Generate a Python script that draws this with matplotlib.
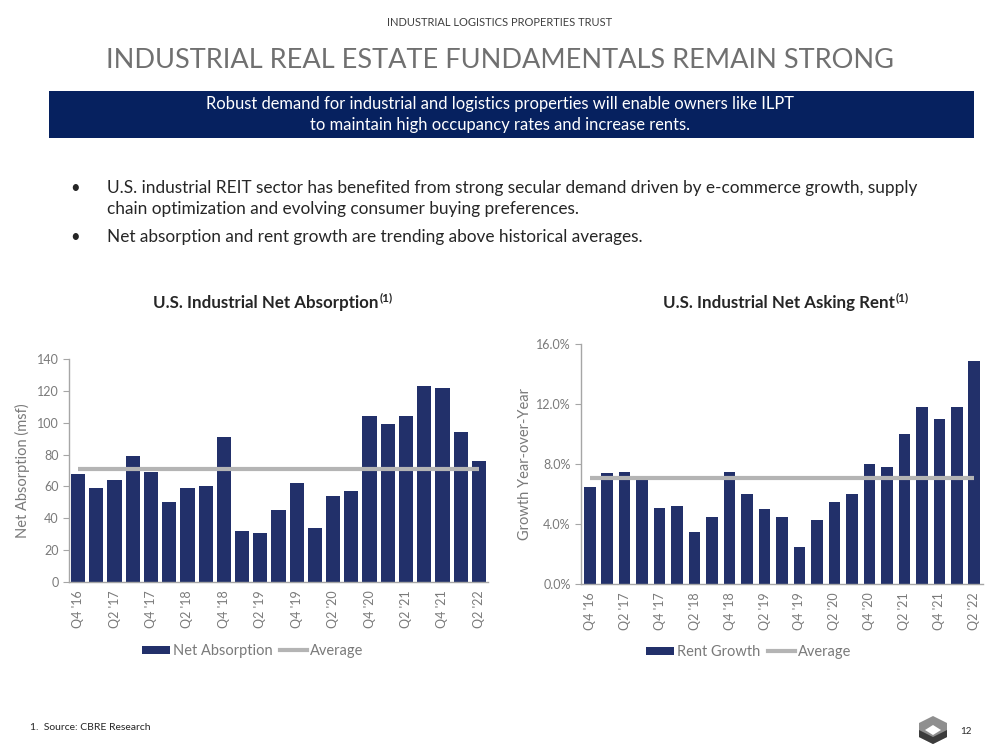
import matplotlib
matplotlib.use("agg")
import matplotlib.pyplot as plt
from matplotlib.patches import Rectangle, Polygon
from matplotlib.lines import Line2D
from matplotlib.ticker import FuncFormatter

plt.rcParams["font.family"] = ["Lato", "DejaVu Sans"]

NAVY = "#22306a"
BANNER = "#06215f"
AVG = "#b4b4b4"
GREY = "#7a7a7a"
DARK = "#262626"

quarters = ["Q4 '16", "Q1 '17", "Q2 '17", "Q3 '17", "Q4 '17", "Q1 '18", "Q2 '18", "Q3 '18",
            "Q4 '18", "Q1 '19", "Q2 '19", "Q3 '19", "Q4 '19", "Q1 '20", "Q2 '20", "Q3 '20",
            "Q4 '20", "Q1 '21", "Q2 '21", "Q3 '21", "Q4 '21", "Q1 '22", "Q2 '22"]
net_absorption = [68, 59, 64, 79, 69, 50, 59, 60, 91, 32, 31, 45, 62, 34, 54, 57,
                  104, 99, 104, 123, 122, 94, 76]
absorption_avg = 71
rent_growth = [6.5, 7.4, 7.5, 7.0, 5.1, 5.2, 3.5, 4.5, 7.5, 6.0, 5.0, 4.5, 2.5, 4.3, 5.5, 6.0,
               8.0, 7.8, 10.0, 11.8, 11.0, 11.8, 14.9]
rent_avg = 7.1

fig = plt.figure(figsize=(9.99, 7.5), dpi=100)
W, H = 999, 750


def fx(px):
    return px / W


def fy(py):
    return 1 - py / H


# Header
fig.text(0.5, fy(23), "INDUSTRIAL LOGISTICS PROPERTIES TRUST", ha="center", va="center",
         fontsize=8, color="#404040")
fig.text(0.5, fy(60), "INDUSTRIAL REAL ESTATE FUNDAMENTALS REMAIN STRONG", ha="center",
         va="center", fontsize=19.5, color="#707070")
fig.patches.append(Rectangle((fx(49), fy(138)), fx(974) - fx(49), fy(91) - fy(138),
                             transform=fig.transFigure, facecolor=BANNER, edgecolor="none"))
fig.text(0.5, fy(104), "Robust demand for industrial and logistics properties will enable owners like ILPT",
         ha="center", va="center", fontsize=11.9, color="white")
fig.text(0.5, fy(125), "to maintain high occupancy rates and increase rents.",
         ha="center", va="center", fontsize=11.9, color="white")

# Bullets
bullets = [
    (188, "U.S. industrial REIT sector has benefited from strong secular demand driven by e-commerce growth, supply", True),
    (209, "chain optimization and evolving consumer buying preferences.", False),
    (237, "Net absorption and rent growth are trending above historical averages.", True),
]
for y, txt, dot in bullets:
    if dot:
        fig.text(fx(75), fy(y), "•", ha="center", va="center", fontsize=12, color=DARK)
    fig.text(fx(107), fy(y), txt, ha="left", va="center", fontsize=12.4, color=DARK)

# Chart titles with superscript note marker
renderer = fig.canvas.get_renderer()
for cx, title in [(266, "U.S. Industrial Net Absorption"), (779, "U.S. Industrial Net Asking Rent")]:
    t = fig.text(fx(cx), fy(303), title, ha="center", va="center",
                 fontsize=12.2, fontweight="bold", color=DARK)
    bb = t.get_window_extent(renderer)
    fig.text(bb.x1 / W + 0.001, fy(298), "(1)", ha="left", va="center", fontsize=8.5,
             fontweight="bold", color=DARK)

x = list(range(len(quarters)))


def style(ax):
    for s in ["top", "right"]:
        ax.spines[s].set_visible(False)
    for s in ["left", "bottom"]:
        ax.spines[s].set_color("#a6a6a6")
        ax.spines[s].set_linewidth(1.0)
    ax.tick_params(axis="y", colors="#a6a6a6", labelcolor=GREY, labelsize=9, length=4)
    ax.tick_params(axis="x", length=0, labelcolor=GREY, labelsize=9, pad=6)
    ax.set_xlim(-0.5, len(quarters) - 0.5)
    ax.set_xticks(x[::2])
    ax.set_xticklabels(quarters[::2], rotation=90)


# Left chart
ax1 = fig.add_axes([fx(69), fy(582), fx(488) - fx(69), fy(359) - fy(582)])
ax1.bar(x, net_absorption, width=0.78, color=NAVY)
ax1.plot([x[0], x[-1]], [absorption_avg] * 2, color=AVG, lw=3, solid_capstyle="butt")
ax1.set_ylim(0, 140)
ax1.set_yticks(range(0, 141, 20))
style(ax1)
ax1.set_ylabel("Net Absorption (msf)", fontsize=10.5, color=GREY, labelpad=5)

# Right chart
ax2 = fig.add_axes([fx(581), fy(584), fx(983) - fx(581), fy(344) - fy(584)])
ax2.bar(x, rent_growth, width=0.66, color=NAVY)
ax2.plot([x[0], x[-1]], [rent_avg] * 2, color=AVG, lw=3, solid_capstyle="butt")
ax2.set_ylim(0, 16)
ax2.set_yticks([0, 4, 8, 12, 16])
ax2.yaxis.set_major_formatter(FuncFormatter(lambda v, p: f"{v:.1f}%"))
style(ax2)
ax2.set_ylabel("Growth Year-over-Year", fontsize=10.5, color=GREY, labelpad=3)


# Legends
def legend(cx, y, bar_label):
    h1 = Rectangle((0, 0), 1, 1, facecolor=NAVY, edgecolor="none")
    h2 = Line2D([], [], color=AVG, lw=3)
    fig.legend([h1, h2], [bar_label, "Average"], loc="center", bbox_to_anchor=(fx(cx), fy(y)),
               ncol=2, frameon=False, fontsize=10.5, labelcolor=GREY, handlelength=1.9,
               handleheight=0.45, handletextpad=0.2, columnspacing=0.5)


legend(253, 651, "Net Absorption")
legend(749, 652, "Rent Growth")

# Footer
fig.text(fx(30), fy(727), "1.  Source: CBRE Research", ha="left", va="center", fontsize=7.5,
         color=DARK)
fig.text(fx(960), fy(731), "12", ha="left", va="center", fontsize=7, color=DARK)

# Logo
lx, ly = 933, 730
outer = [(lx, ly - 14), (lx + 14, ly - 7), (lx + 14, ly + 7), (lx, ly + 14), (lx - 14, ly + 7), (lx - 14, ly - 7)]
lower = [(lx - 14, ly), (lx, ly + 7), (lx + 14, ly), (lx + 14, ly + 7), (lx, ly + 14), (lx - 14, ly + 7)]
inner = [(lx, ly - 5), (lx + 8, ly), (lx, ly + 5), (lx - 8, ly)]
for pts, c in [(outer, "#8f8f8f"), (lower, "#3c3c3c"), (inner, "white")]:
    fig.patches.append(Polygon([(fx(a), fy(b)) for a, b in pts], closed=True,
                               transform=fig.transFigure, facecolor=c, edgecolor="none"))

fig.savefig("out.png", dpi=100)
